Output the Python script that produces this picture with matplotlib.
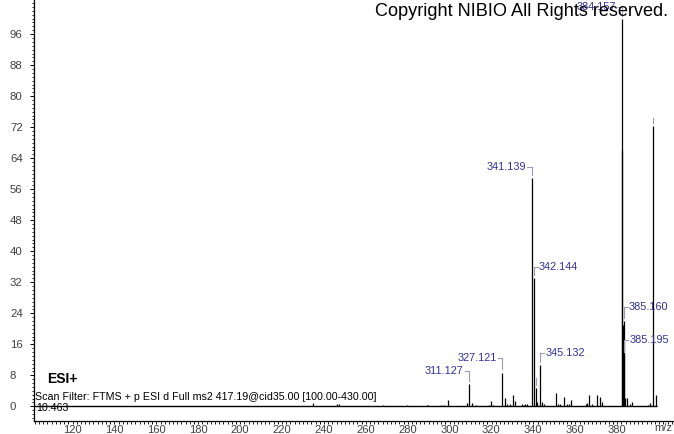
import matplotlib.pyplot as plt
import matplotlib.ticker as mticker
import matplotlib.transforms as mtransforms

# centroid peaks: m/z and relative abundance (%)
peak_mz = [236.6, 248.1, 249.2, 270.4, 281.8, 291.1, 291.8, 297.8, 299.3, 301.4,
           310.2, 311.127, 312.6, 314.6, 320.8, 321.6, 322.9, 327.121, 328.3, 329.6,
           330.9, 332.1, 333.4, 336.6, 337.4, 338.2, 339.0, 341.139, 342.144, 343.14,
           343.7, 345.132, 346.1, 347.1, 352.8, 353.9, 354.7, 356.8, 357.9, 358.9,
           360.1, 367.1, 367.7, 368.7, 370.0, 372.5, 373.8, 374.9, 384.05, 384.157,
           384.6, 385.160, 385.195, 385.9, 386.8, 387.9, 389.1, 396.7, 397.7, 399.0,
           400.5]
peak_int = [0.8, 0.5, 0.5, 0.4, 0.4, 0.3, 0.3, 0.4, 0.4, 1.5,
            0.8, 5.8, 0.8, 0.4, 0.3, 1.3, 0.4, 8.7, 2.2, 0.5,
            0.5, 2.8, 1.3, 0.5, 0.4, 0.5, 0.7, 58.9, 33.1, 4.7,
            1.0, 10.7, 1.2, 0.5, 3.5, 0.6, 0.5, 2.5, 0.6, 0.5,
            1.5, 0.7, 0.9, 3.0, 0.5, 3.0, 2.3, 1.0, 66.2, 100.0,
            21.0, 21.9, 13.2, 2.1, 2.1, 0.6, 1.2, 0.3, 0.8, 72.2,
            3.0]
baseline_end = 401.0

# annotated peaks
label_mz = [384.157, 341.139, 342.144, 345.132, 327.121, 311.127, 385.160, 385.195]
label_int = [100.0, 58.9, 33.1, 10.7, 8.7, 5.8, 21.9, 13.2]
label_side = ['left', 'left', 'right', 'right', 'left', 'left', 'right', 'right']
label_y = [103.0, 61.8, 35.9, 13.7, 12.5, 9.1, 25.6, 17.1]

# peaks whose label text is hidden (only the marker shows)
mark_mz = [343.14, 399.0]
mark_int = [4.7, 72.2]
mark_top = [7.3, 74.3]

x_ticks = list(range(120, 400, 20))
y_ticks = list(range(0, 97, 8))

plt.rcParams['font.family'] = ['Liberation Sans', 'DejaVu Sans']

fig = plt.figure(figsize=(6.74, 4.34), dpi=100)
ax = fig.add_axes([34 / 674, 13 / 434, 640 / 674, 421 / 434])

ax.vlines(peak_mz, 0, peak_int, color='black', linewidth=0.9)
ax.hlines(0, 103.6, baseline_end, color='black', linewidth=1.0)

lab_color = '#30309a'
brk_color = '#9a9ab2'
for mz, h, side, yl in zip(label_mz, label_int, label_side, label_y):
    ax.plot([mz, mz], [h + 0.8, yl], color=brk_color, linewidth=0.8)
    if side == 'left':
        ax.plot([mz, mz - 2.0], [yl, yl], color=brk_color, linewidth=0.8)
        ax.text(mz - 2.5, yl, f'{mz:.3f}', ha='right', va='center',
                fontsize=7.8, color=lab_color)
    else:
        ax.plot([mz, mz + 2.0], [yl, yl], color=brk_color, linewidth=0.8)
        ax.text(mz + 2.5, yl, f'{mz:.3f}', ha='left', va='center',
                fontsize=7.8, color=lab_color)

for mz, h, top in zip(mark_mz, mark_int, mark_top):
    ax.plot([mz, mz], [h + 0.8, top], color=brk_color, linewidth=0.8)

ax.set_xlim(103.6, 409.1)
ax.set_ylim(-3.79, 104.8)

ax.spines['top'].set_visible(False)
ax.spines['right'].set_visible(False)
ax.spines['left'].set_linewidth(0.9)
ax.spines['bottom'].set_linewidth(0.9)

ax.set_xticks(x_ticks)
ax.xaxis.set_minor_locator(mticker.MultipleLocator(2))
ax.set_yticks(y_ticks)
ax.yaxis.set_minor_locator(mticker.MultipleLocator(1))

ax.tick_params(axis='x', which='major', length=2.5, width=0.7, pad=0.3,
               labelsize=8, labelcolor='#404040')
ax.tick_params(axis='x', which='minor', length=2, width=0.6)
ax.tick_params(axis='y', which='major', length=3, width=0.7, pad=14.3,
               labelsize=8.2, labelcolor='#404040')
ax.tick_params(axis='y', which='minor', length=1.5, width=0.6)
for t in ax.get_yticklabels():
    t.set_horizontalalignment('left')
# Xcalibur draws the m/z numbers a few pixels right of the tick
shift = mtransforms.ScaledTranslation(4 / 100, 0, fig.dpi_scale_trans)
for t in ax.get_xticklabels():
    t.set_transform(t.get_transform() + shift)

fig.text(663 / 674, 1 - 428 / 434, 'm/z', ha='center', va='center',
         fontsize=8, color='#404040')
fig.text(668 / 674, 1 - 12 / 434, 'Copyright NIBIO All Rights reserved.',
         ha='right', va='center', fontsize=13.1, color='black')
fig.text(47 / 674, 1 - 379 / 434, 'ESI+', ha='left', va='center',
         fontsize=10, fontweight='bold', color='black')
fig.text(35 / 674, 1 - 396.5 / 434,
         'Scan Filter: FTMS + p ESI d Full ms2 417.19@cid35.00 [100.00-430.00]',
         ha='left', va='center', fontsize=7.7, color='black')
fig.text(36 / 674, 1 - 408 / 434, '10.463', ha='left', va='center',
         fontsize=7.7, color='black')

fig.savefig('out.png', dpi=100)
